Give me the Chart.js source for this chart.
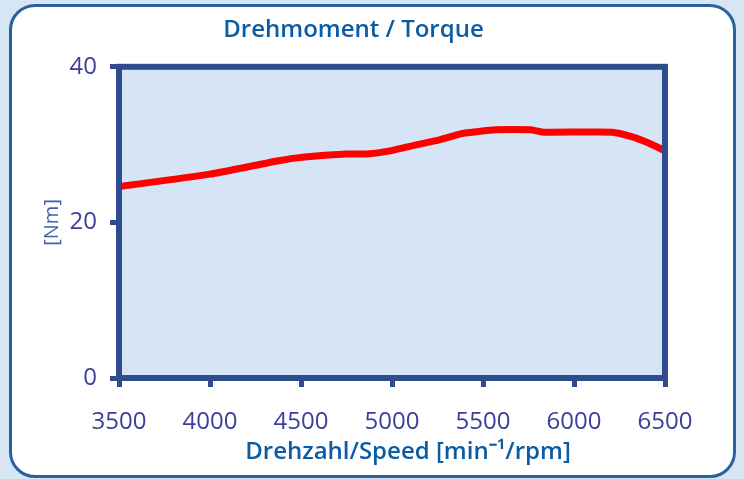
<!DOCTYPE html>
<html>
<head>
<meta charset="utf-8">
<script src="https://cdn.jsdelivr.net/npm/chart.js@4"></script>
<style>
  html, body { margin: 0; padding: 0; background: #d6e6f5; }
  body { width: 744px; height: 479px; position: relative; overflow: hidden; }
  #card {
    position: absolute; left: 9px; top: 4px; width: 727px; height: 474px;
    box-sizing: border-box; border: 3px solid #2a62a0; border-radius: 26px;
    background: #fff;
  }
  #chart { position: absolute; left: 0; top: 0; }
</style>
</head>
<body>
<div id="card"></div>
<canvas id="chart" width="744" height="479"></canvas>
<script>
const rpm = [3500, 4000, 4370, 4520, 4750, 4860, 4990, 5140, 5260, 5380, 5570, 5760, 5830, 6210, 6320, 6410, 6500];
const torque = [24.6, 26.2, 27.9, 28.4, 28.8, 28.8, 29.2, 30.0, 30.6, 31.4, 31.9, 31.9, 31.6, 31.6, 31.0, 30.2, 29.2];
const xTicks = [3500, 4000, 4500, 5000, 5500, 6000, 6500];
const yTicks = [0, 20, 40];
const xTitle = 'Drehzahl/Speed [min⁻¹/rpm]';

const axisBlue = '#2f4d8e';
const labelBlue = '#3d3d9c';
const titleBlue = '#0b5ca3';

// plot background, frame and the x-axis caption
const plotFrame = {
  id: 'plotFrame',
  beforeDatasetsDraw(chart) {
    const {ctx, chartArea: a} = chart;
    ctx.save();
    ctx.fillStyle = '#d5e5f5';
    ctx.fillRect(a.left, a.top, a.right - a.left, a.bottom - a.top);
    ctx.restore();
  },
  afterDatasetsDraw(chart) {
    const {ctx, chartArea: a} = chart;
    ctx.save();
    ctx.strokeStyle = axisBlue;
    ctx.lineWidth = 6;
    ctx.strokeRect(a.left, a.top, a.right - a.left, a.bottom - a.top);
    ctx.fillStyle = titleBlue;
    ctx.font = '600 24px "Open Sans"';
    ctx.textAlign = 'center';
    ctx.textBaseline = 'middle';
    ctx.fillText(xTitle, (a.left + a.right) / 2 + 16, 452);
    ctx.restore();
  }
};

const ctx = document.getElementById('chart').getContext('2d');
new Chart(ctx, {
  type: 'line',
  data: {
    datasets: [{
      data: rpm.map((r, i) => ({x: r, y: torque[i]})),
      borderColor: '#ff0000',
      borderWidth: 7,
      pointRadius: 0,
      tension: 0.15,
      borderJoinStyle: 'round'
    }]
  },
  options: {
    responsive: false,
    animation: false,
    layout: { padding: { left: 42, right: 79, top: 0, bottom: 0 } },
    plugins: {
      legend: { display: false },
      tooltip: { enabled: false },
      title: {
        display: true,
        text: 'Drehmoment / Torque',
        color: titleBlue,
        font: { family: 'Open Sans', size: 24, weight: '600' },
        padding: { top: 16, bottom: 22 }
      }
    },
    scales: {
      x: {
        type: 'linear',
        min: 3500, max: 6500,
        afterBuildTicks: s => { s.ticks = xTicks.map(v => ({value: v})); },
        afterFit: s => { s.height = 101; },
        border: { display: false },
        grid: { drawOnChartArea: false, drawTicks: true, tickLength: 9, tickWidth: 5, color: axisBlue, tickColor: axisBlue },
        ticks: { color: labelBlue, font: { family: 'Open Sans', size: 24 }, padding: 21, maxRotation: 0,
                 callback: v => String(v) }
      },
      y: {
        min: 0, max: 40,
        afterBuildTicks: s => { s.ticks = yTicks.map(v => ({value: v})); },
        afterFit: s => { s.width = 77; },
        border: { display: false },
        grid: { drawOnChartArea: false, drawTicks: true, tickLength: 9, tickWidth: 5, color: axisBlue, tickColor: axisBlue },
        ticks: { color: labelBlue, font: { family: 'Open Sans', size: 24 }, padding: 13,
                 callback: v => String(v) },
        title: {
          display: true,
          text: '[Nm]',
          color: '#4262aa',
          font: { family: 'Open Sans', size: 20 },
          padding: { top: -2, bottom: 0 }
        }
      }
    }
  },
  plugins: [plotFrame]
});
</script>
</body>
</html>
